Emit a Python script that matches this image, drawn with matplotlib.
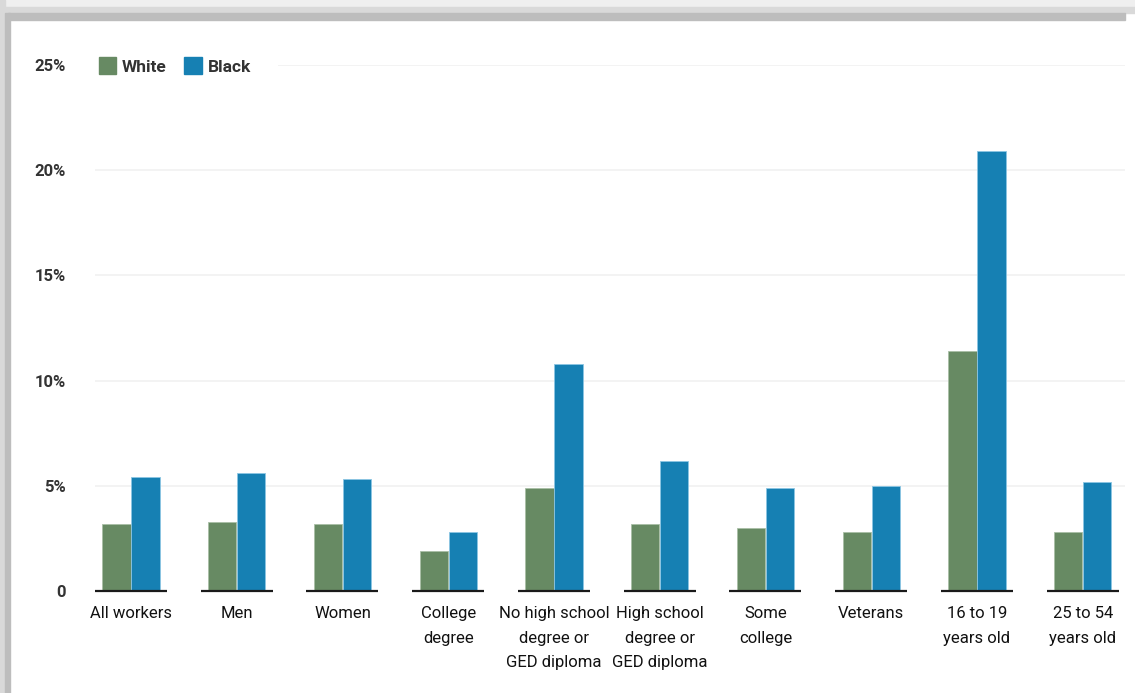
import matplotlib.pyplot as plt
from matplotlib.patches import Patch, Rectangle

categories = [
    "All workers",
    "Men",
    "Women",
    "College\ndegree",
    "No high school\ndegree or\nGED diploma",
    "High school\ndegree or\nGED diploma",
    "Some\ncollege",
    "Veterans",
    "16 to 19\nyears old",
    "25 to 54\nyears old",
]
white_rate = [3.2, 3.3, 3.2, 1.9, 4.9, 3.2, 3.0, 2.8, 11.4, 2.8]
black_rate = [5.4, 5.6, 5.3, 2.8, 10.8, 6.2, 4.9, 5.0, 20.9, 5.2]
y_ticks = [0, 5, 10, 15, 20, 25]
y_tick_labels = ["0", "5%", "10%", "15%", "20%", "25%"]

GREEN = "#678a63"
BLUE = "#1680b3"
FONT = ["Roboto", "DejaVu Sans"]

W, H = 1135, 693
fig = plt.figure(figsize=(W / 100, H / 100), dpi=100)
fig.patch.set_facecolor("white")

# gray frame along the top and left edges
fig.patches.append(Rectangle((0, 1 - 7 / H), 1, 7 / H, transform=fig.transFigure,
                             color="#efefef", zorder=0))
fig.patches.append(Rectangle((0, 1 - 13 / H), 1, 6 / H, transform=fig.transFigure,
                             color="#d9d9d9", zorder=0))
fig.patches.append(Rectangle((8 / W, 1 - 20 / H), 1 - 18 / W, 7 / H, transform=fig.transFigure,
                             color="#bdbdbd", zorder=0))
fig.patches.append(Rectangle((0, 0), 5 / W, 1, transform=fig.transFigure,
                             color="#d9d9d9", zorder=0))
fig.patches.append(Rectangle((5 / W, 0), 5 / W, 1 - 13 / H, transform=fig.transFigure,
                             color="#bdbdbd", zorder=0))

ax = fig.add_axes([95 / W, (H - 591) / H, 1030 / W, 526 / H])
ax.set_facecolor("none")
ax.set_xlim(-0.34, 9.40)
ax.set_ylim(0, 25)

x = list(range(len(categories)))
bw = 0.268
ax.bar([i - bw / 2 - 0.003 for i in x], white_rate, width=bw, color=GREEN,
       edgecolor="#a9bfa6", linewidth=0.6, zorder=3)
ax.bar([i + bw / 2 + 0.003 for i in x], black_rate, width=bw, color=BLUE,
       edgecolor="#8cc6e3", linewidth=0.6, zorder=3)

# light gridlines; the top one leaves room for the legend
for t in y_ticks[1:]:
    start = 1.39 if t == 25 else -0.34
    ax.hlines(t, start, 9.40, color="#f1f1f1", linewidth=1.2, zorder=1)

# short baseline under each group
ax.hlines([0] * len(x), [i - 0.34 for i in x], [i + 0.34 for i in x],
          color="#1a1a1a", linewidth=1.6, zorder=4, clip_on=False)

for s in ax.spines.values():
    s.set_visible(False)

ax.set_yticks(y_ticks)
ax.set_yticklabels(y_tick_labels, fontsize=12, fontweight="bold",
                   color="#333333", family=FONT)
ax.tick_params(axis="y", length=0, pad=21)
ax.set_xticks(x)
ax.set_xticklabels(categories, fontsize=12, color="#111111", family=FONT,
                   linespacing=1.8)
ax.tick_params(axis="x", length=0, pad=11)

handles = [Patch(facecolor=GREEN, edgecolor=GREEN, label="White"),
           Patch(facecolor=BLUE, edgecolor=BLUE, label="Black")]
leg = ax.legend(handles=handles, loc="center left", ncol=2, frameon=False,
                bbox_to_anchor=(83 / W, (H - 66) / H), bbox_transform=fig.transFigure,
                handlelength=1.0, handleheight=1.1, handletextpad=0.35,
                columnspacing=1.0, prop={"family": FONT, "weight": "bold", "size": 12.5})
for t in leg.get_texts():
    t.set_color("#333333")

fig.savefig("out.png", dpi=100)
